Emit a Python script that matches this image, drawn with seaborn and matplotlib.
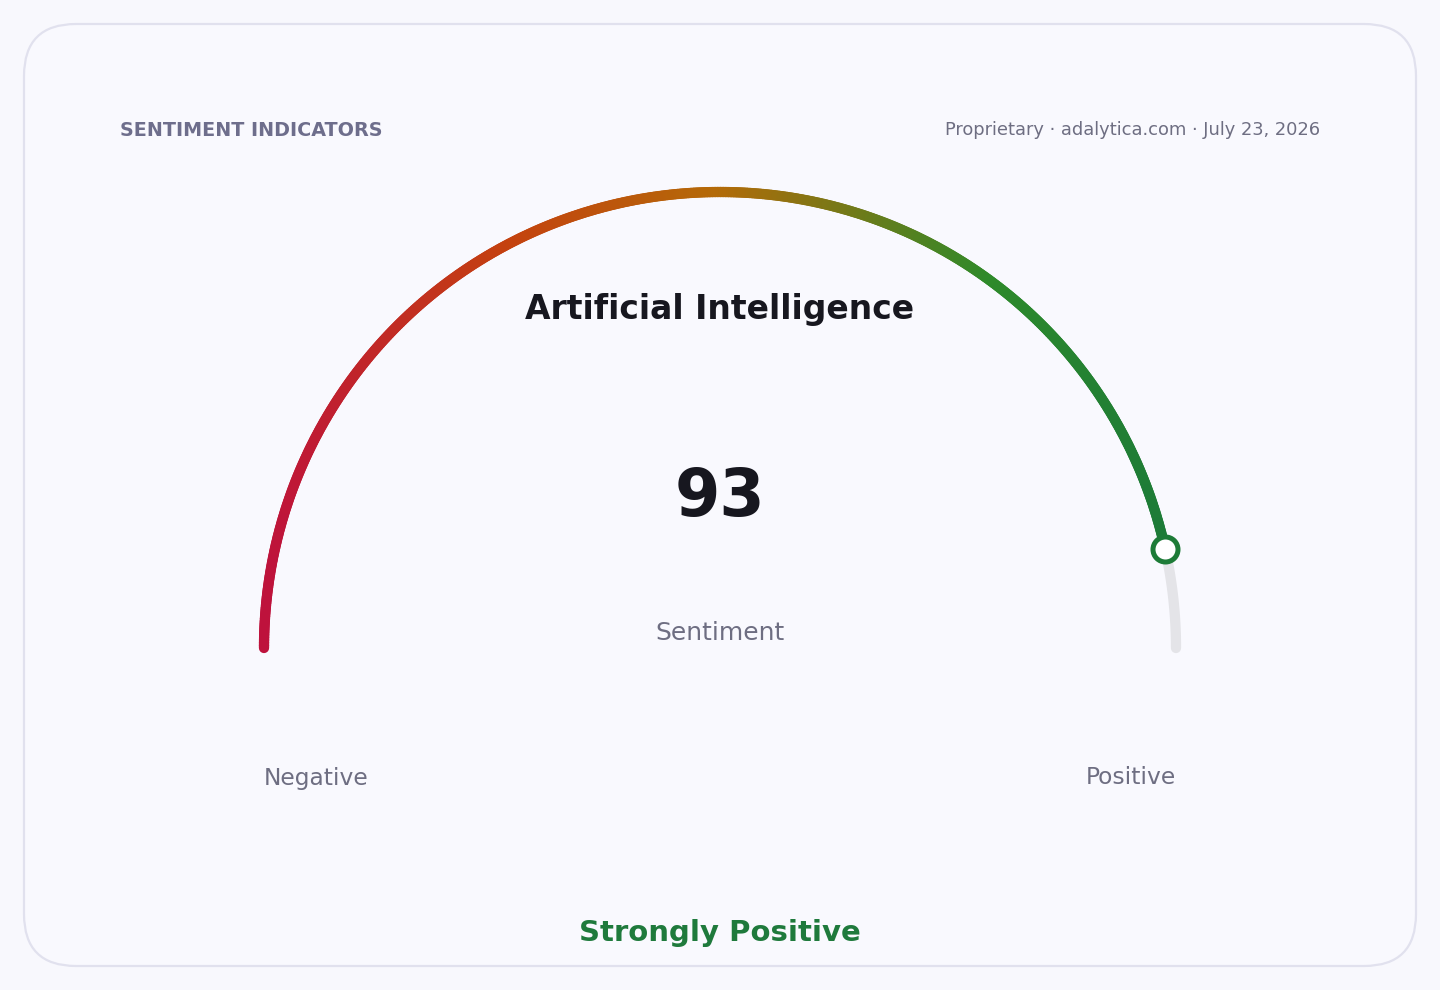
import numpy as np
import pandas as pd
import matplotlib
matplotlib.use("Agg")
import matplotlib.pyplot as plt
import seaborn as sns
from matplotlib.collections import LineCollection
from matplotlib.colors import LinearSegmentedColormap
from matplotlib.patches import FancyBboxPatch

# ---- data ----
topic = "Artificial Intelligence"
value = 93
scale_min = 0
scale_max = 100
scale_labels = ["Negative", "Positive"]
verdict = "Strongly Positive"
header_left = "SENTIMENT INDICATORS"
header_right = "Proprietary \u00b7 adalytica.com \u00b7 July 23, 2026"
metric_label = "Sentiment"
gradient_stops = [0.0, 0.27, 0.5, 0.8, 1.0]
gradient_colors = ["#be123c", "#c4420f", "#b46a08", "#2e8a2a", "#1c7a38"]

sns.set_theme(style="white")
plt.rcParams['font.family'] = ['DejaVu Sans']

W, H = 1440, 990
fig = plt.figure(figsize=(W / 100, H / 100), dpi=100)
fig.patch.set_facecolor("#f8f8fd")
ax = fig.add_axes([0, 0, 1, 1])
ax.set_xlim(0, W)
ax.set_ylim(H, 0)
ax.axis("off")
ax.set_facecolor("#f8f8fd")

card = FancyBboxPatch((24, 24), 1392, 942, boxstyle="round,pad=0,rounding_size=52",
                      facecolor="#f9f9fe", edgecolor="#e1e1ee", linewidth=1.6, zorder=0)
ax.add_patch(card)

cx, cy, R = 720, 648, 456
lw = 7.4
frac = (value - scale_min) / (scale_max - scale_min)

# grey track from value to max
t_track = np.linspace(frac, 1.0, 100)
ang = np.pi * (1 - t_track)
track = pd.DataFrame({"x": cx + R * np.cos(ang), "y": cy - R * np.sin(ang)})
sns.lineplot(data=track, x="x", y="y", ax=ax, color="#e4e4e8", linewidth=lw,
             sort=False, estimator=None, solid_capstyle="round", zorder=1)

# gradient arc (horizontal gradient across the gauge width)
cmap = LinearSegmentedColormap.from_list("sent", list(zip(gradient_stops, gradient_colors)))
n = 500
t = np.linspace(0, frac, n + 1)
ang = np.pi * (1 - t)
px = cx + R * np.cos(ang)
py = cy - R * np.sin(ang)
pts = np.column_stack([px, py]).reshape(-1, 1, 2)
segs = np.concatenate([pts[:-1], pts[1:]], axis=1)
xm = (px[:-1] + px[1:]) / 2
gpos = (xm - (cx - R)) / (2 * R)
lc = LineCollection(segs, colors=cmap(gpos), linewidths=lw, capstyle="round", zorder=2)
ax.add_collection(lc)

# end marker
end_color = cmap((px[-1] - (cx - R)) / (2 * R))
ax.plot([px[-1]], [py[-1]], marker="o", markersize=18, markerfacecolor="white",
        markeredgecolor=end_color, markeredgewidth=3.6, zorder=3)

# texts
ax.text(120, 130, header_left, fontsize=13.8, fontweight="bold", color="#6e6e8c",
        ha="left", va="center")
ax.text(1320, 130, header_right, fontsize=12.9, color="#6e6e82", ha="right", va="center")
ax.text(720, 309, topic, fontsize=23.8, fontweight="bold", color="#17171f",
        ha="center", va="center")
ax.text(720, 498, f"{value}", fontsize=47, fontweight="bold", color="#17171f",
        ha="center", va="center")
ax.text(720, 633, metric_label, fontsize=18, color="#6e6e82", ha="center", va="center")
ax.text(264, 778, scale_labels[0], fontsize=16.8, color="#6e6e82", ha="left", va="center")
ax.text(1176, 778, scale_labels[1], fontsize=16.8, color="#6e6e82", ha="right", va="center")
ax.text(720, 933, verdict, fontsize=21, fontweight="bold", color="#1f7a3c",
        ha="center", va="center")

fig.savefig("out.png", dpi=100, facecolor=fig.get_facecolor())
